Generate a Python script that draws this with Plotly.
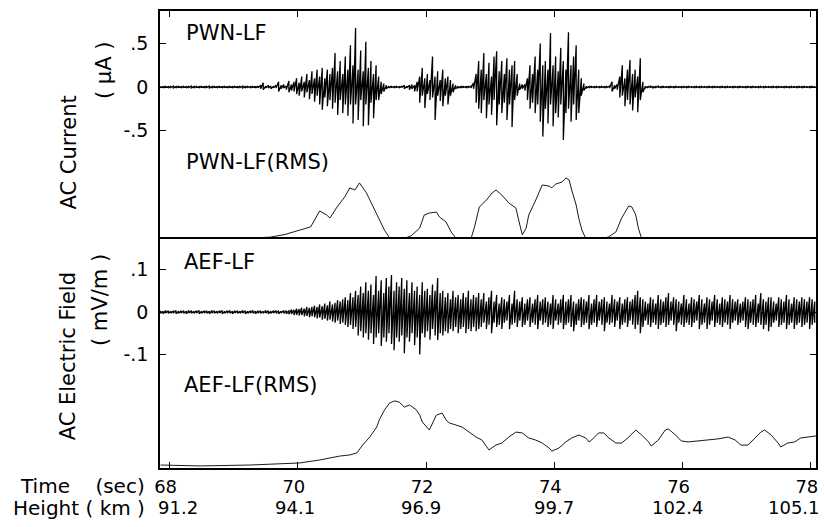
import numpy as np
import plotly.graph_objects as go

# ---------------- data ----------------
T0 = 67.86          # first bin time (s)
DT = 0.04           # bin width (s)

# PWN-LF AC current (uA): per-bin maximum and minimum of the waveform
pwn_hi = [
    0.01, 0.005, 0.01, 0.005, 0.01, 0.01, 0.005, 0.01, 0.005, 0.01, 0.005, 0.01, 0.01, 0.005, 0.01, 0.005, 0.01, 0.005, 0.01, 0.01, 0.005, 0.01, 0.005, 0.01, 0.005,
    0.01, 0.005, 0.01, 0.005, 0.01, 0.005, 0.01, 0.01, 0.005, 0.01, 0.005, 0.01, 0.005, 0.01, 0.02, 0.05, 0.01, 0.02, 0.01, 0.01, 0.02, 0.06, 0.02, 0.03, 0.01,
    0.07, 0.03, 0.06, 0.1, 0.05, 0.12, 0.06, 0.15, 0.08, 0.18, 0.1, 0.2, 0.12, 0.22, 0.1, 0.2, 0.15, 0.22, 0.39, 0.18, 0.3, 0.15, 0.35, 0.2, 0.48,
    0.25, 0.68, 0.2, 0.42, 0.18, 0.52, 0.22, 0.3, 0.15, 0.25, 0.12, 0.06, 0.04, 0.02, 0.01, 0.01, 0.005, 0.01, 0.005, 0.01, 0.02, 0.01, 0.02, 0.03, 0.02,
    0.06, 0.12, 0.22, 0.1, 0.15, 0.08, 0.35, 0.12, 0.18, 0.08, 0.2, 0.1, 0.12, 0.08, 0.04, 0.02, 0.01, 0.005, 0.01, 0.005, 0.01, 0.01, 0.05, 0.15, 0.3,
    0.2, 0.39, 0.15, 0.28, 0.12, 0.35, 0.41, 0.18, 0.3, 0.15, 0.33, 0.2, 0.25, 0.3, 0.15, 0.04, 0.03, 0.03, 0.1, 0.25, 0.15, 0.35, 0.2, 0.5, 0.25,
    0.3, 0.2, 0.62, 0.25, 0.35, 0.18, 0.45, 0.3, 0.2, 0.63, 0.25, 0.35, 0.48, 0.2, 0.1, 0.04, 0.01, 0.005, 0.01, 0.005, 0.01, 0.005, 0.01, 0.005, 0.01,
    0.01, 0.06, 0.02, 0.03, 0.12, 0.25, 0.1, 0.2, 0.31, 0.15, 0.2, 0.12, 0.33, 0.06, 0.01, 0.005, 0.01, 0.005, 0.005, 0.01, 0.005, 0.01, 0.005, 0.005, 0.01,
    0.005, 0.01, 0.005, 0.005, 0.01, 0.005, 0.01, 0.005, 0.005, 0.01, 0.005, 0.01, 0.005, 0.005, 0.01, 0.005, 0.01, 0.005, 0.005, 0.01, 0.005, 0.01, 0.005, 0.005, 0.01,
    0.005, 0.01, 0.005, 0.005, 0.01, 0.005, 0.01, 0.005, 0.005, 0.01, 0.005, 0.01, 0.005, 0.005, 0.01, 0.005, 0.01, 0.005, 0.005, 0.01, 0.005, 0.01, 0.005, 0.005, 0.01,
    0.005, 0.01, 0.005, 0.005, 0.01, 0.005,
]
pwn_lo = [
    -0.005, -0.01, -0.005, -0.01, -0.005, -0.01, -0.01, -0.005, -0.01, -0.005, -0.01, -0.005, -0.01, -0.01, -0.005, -0.01, -0.005, -0.01, -0.005, -0.01, -0.01, -0.005, -0.01, -0.005, -0.01,
    -0.005, -0.01, -0.005, -0.01, -0.005, -0.01, -0.005, -0.01, -0.01, -0.005, -0.01, -0.005, -0.01, -0.01, -0.02, -0.03, -0.01, -0.01, -0.02, -0.01, -0.01, -0.05, -0.02, -0.01, -0.03,
    -0.06, -0.04, -0.05, -0.08, -0.1, -0.05, -0.12, -0.06, -0.14, -0.08, -0.17, -0.1, -0.2, -0.26, -0.12, -0.22, -0.15, -0.25, -0.18, -0.32, -0.15, -0.3, -0.2, -0.33, -0.2,
    -0.42, -0.2, -0.38, -0.15, -0.45, -0.2, -0.44, -0.18, -0.36, -0.15, -0.15, -0.08, -0.05, -0.02, -0.01, -0.005, -0.01, -0.005, -0.01, -0.005, -0.02, -0.01, -0.03, -0.02, -0.05,
    -0.05, -0.18, -0.1, -0.24, -0.08, -0.15, -0.12, -0.38, -0.1, -0.16, -0.22, -0.1, -0.2, -0.1, -0.06, -0.02, -0.01, -0.01, -0.005, -0.01, -0.005, -0.01, -0.02, -0.18, -0.25,
    -0.3, -0.15, -0.36, -0.2, -0.32, -0.15, -0.44, -0.2, -0.3, -0.18, -0.38, -0.2, -0.46, -0.15, -0.1, -0.03, -0.02, -0.04, -0.15, -0.25, -0.18, -0.3, -0.2, -0.4, -0.57,
    -0.25, -0.42, -0.2, -0.45, -0.3, -0.35, -0.2, -0.61, -0.3, -0.25, -0.4, -0.2, -0.38, -0.3, -0.1, -0.04, -0.01, -0.01, -0.005, -0.01, -0.005, -0.01, -0.005, -0.01, -0.005,
    -0.01, -0.05, -0.02, -0.03, -0.12, -0.1, -0.22, -0.15, -0.2, -0.27, -0.12, -0.29, -0.15, -0.06, -0.01, -0.005, -0.005, -0.01, -0.005, -0.005, -0.01, -0.005, -0.005, -0.01, -0.005,
    -0.01, -0.005, -0.005, -0.01, -0.005, -0.01, -0.005, -0.005, -0.01, -0.005, -0.01, -0.005, -0.005, -0.01, -0.005, -0.01, -0.005, -0.005, -0.01, -0.005, -0.01, -0.005, -0.005, -0.01, -0.005,
    -0.01, -0.005, -0.005, -0.01, -0.005, -0.01, -0.005, -0.005, -0.01, -0.005, -0.01, -0.005, -0.005, -0.01, -0.005, -0.01, -0.005, -0.005, -0.01, -0.005, -0.01, -0.005, -0.005, -0.01, -0.005,
    -0.01, -0.005, -0.005, -0.01, -0.005, -0.01,
]

# AEF-LF AC electric field (mV/m): per-bin maximum and minimum of the waveform
aef_hi = [
    0.003, 0.002, 0.004, 0.003, 0.002, 0.003, 0.004, 0.002, 0.003, 0.003, 0.002, 0.004, 0.003, 0.002, 0.003, 0.004, 0.002, 0.003, 0.003, 0.002, 0.004, 0.003, 0.002, 0.003, 0.004,
    0.002, 0.003, 0.004, 0.002, 0.003, 0.003, 0.002, 0.004, 0.003, 0.002, 0.003, 0.004, 0.002, 0.003, 0.003, 0.002, 0.004, 0.003, 0.002, 0.003, 0.004, 0.003, 0.002, 0.004, 0.003,
    0.004, 0.006, 0.005, 0.008, 0.007, 0.01, 0.008, 0.012, 0.01, 0.012, 0.015, 0.012, 0.018, 0.014, 0.02, 0.016, 0.025, 0.018, 0.022, 0.028, 0.025, 0.03, 0.035, 0.028, 0.045,
    0.035, 0.05, 0.04, 0.06, 0.045, 0.07, 0.05, 0.065, 0.04, 0.085, 0.05, 0.075, 0.045, 0.08, 0.06, 0.087, 0.05, 0.07, 0.06, 0.08, 0.055, 0.075, 0.045, 0.07, 0.05,
    0.06, 0.04, 0.07, 0.05, 0.055, 0.04, 0.065, 0.05, 0.08, 0.045, 0.05, 0.035, 0.045, 0.03, 0.05, 0.035, 0.04, 0.03, 0.045, 0.035, 0.05, 0.03, 0.04, 0.035, 0.045,
    0.03, 0.045, 0.025, 0.035, 0.05, 0.025, 0.04, 0.02, 0.035, 0.03, 0.025, 0.04, 0.02, 0.05, 0.03, 0.025, 0.035, 0.02, 0.03, 0.035, 0.02, 0.03, 0.04, 0.025, 0.03,
    0.035, 0.025, 0.02, 0.04, 0.03, 0.02, 0.03, 0.04, 0.025, 0.03, 0.04, 0.025, 0.02, 0.03, 0.035, 0.03, 0.025, 0.04, 0.02, 0.03, 0.04, 0.025, 0.03, 0.035, 0.025,
    0.02, 0.04, 0.03, 0.025, 0.035, 0.02, 0.03, 0.035, 0.025, 0.03, 0.04, 0.05, 0.035, 0.03, 0.025, 0.02, 0.035, 0.03, 0.02, 0.04, 0.03, 0.025, 0.035, 0.045, 0.025,
    0.035, 0.03, 0.025, 0.02, 0.04, 0.03, 0.02, 0.035, 0.03, 0.025, 0.04, 0.03, 0.02, 0.035, 0.03, 0.025, 0.04, 0.03, 0.02, 0.035, 0.03, 0.025, 0.04, 0.03, 0.025,
    0.03, 0.02, 0.025, 0.035, 0.03, 0.025, 0.03, 0.04, 0.02, 0.045, 0.03, 0.025, 0.035, 0.035, 0.025, 0.02, 0.035, 0.03, 0.025, 0.04, 0.03, 0.02, 0.035, 0.03, 0.025,
    0.035, 0.03, 0.025, 0.035, 0.03, 0.025,
]
aef_lo = [
    -0.003, -0.004, -0.002, -0.003, -0.003, -0.002, -0.004, -0.003, -0.002, -0.003, -0.004, -0.002, -0.003, -0.003, -0.002, -0.004, -0.003, -0.002, -0.003, -0.004, -0.002, -0.003, -0.003, -0.002, -0.004,
    -0.003, -0.002, -0.003, -0.004, -0.002, -0.003, -0.003, -0.002, -0.004, -0.003, -0.002, -0.003, -0.004, -0.002, -0.003, -0.003, -0.002, -0.004, -0.003, -0.002, -0.003, -0.004, -0.002, -0.003, -0.004,
    -0.005, -0.004, -0.007, -0.006, -0.008, -0.007, -0.01, -0.009, -0.012, -0.01, -0.012, -0.015, -0.013, -0.018, -0.016, -0.02, -0.018, -0.022, -0.025, -0.02, -0.028, -0.025, -0.03, -0.035, -0.03,
    -0.04, -0.035, -0.055, -0.045, -0.06, -0.05, -0.065, -0.05, -0.075, -0.06, -0.05, -0.08, -0.06, -0.07, -0.05, -0.075, -0.09, -0.06, -0.07, -0.055, -0.097, -0.06, -0.07, -0.05, -0.078,
    -0.06, -0.1, -0.05, -0.06, -0.045, -0.065, -0.04, -0.055, -0.066, -0.05, -0.055, -0.045, -0.05, -0.04, -0.045, -0.035, -0.05, -0.04, -0.035, -0.05, -0.04, -0.045, -0.035, -0.045, -0.04,
    -0.035, -0.025, -0.04, -0.03, -0.05, -0.025, -0.035, -0.03, -0.04, -0.025, -0.02, -0.04, -0.03, -0.025, -0.035, -0.02, -0.035, -0.03, -0.02, -0.035, -0.025, -0.03, -0.04, -0.02, -0.03,
    -0.025, -0.035, -0.03, -0.04, -0.02, -0.03, -0.025, -0.04, -0.03, -0.025, -0.035, -0.045, -0.03, -0.02, -0.035, -0.03, -0.025, -0.04, -0.03, -0.025, -0.035, -0.02, -0.03, -0.045, -0.025,
    -0.03, -0.025, -0.035, -0.02, -0.04, -0.03, -0.025, -0.035, -0.02, -0.03, -0.04, -0.03, -0.05, -0.035, -0.02, -0.03, -0.035, -0.025, -0.03, -0.04, -0.03, -0.025, -0.035, -0.03, -0.02,
    -0.03, -0.045, -0.025, -0.03, -0.035, -0.025, -0.03, -0.035, -0.025, -0.02, -0.04, -0.03, -0.025, -0.04, -0.03, -0.02, -0.035, -0.025, -0.03, -0.035, -0.025, -0.03, -0.04, -0.025, -0.02,
    -0.03, -0.025, -0.02, -0.035, -0.04, -0.025, -0.03, -0.035, -0.025, -0.03, -0.04, -0.03, -0.045, -0.035, -0.025, -0.02, -0.035, -0.03, -0.025, -0.04, -0.03, -0.025, -0.04, -0.03, -0.025,
    -0.035, -0.03, -0.025, -0.04, -0.03, -0.025,
]

# PWN-LF RMS (relative units)
pwn_rms_t = [67.86, 69.18, 69.33, 69.57, 69.80, 70.04, 70.20, 70.34, 70.45, 70.50, 70.61, 70.73, 70.81, 70.89, 70.96,
             71.07, 71.16, 71.27, 71.35, 71.43, 71.66, 71.77, 71.90, 71.97, 72.05, 72.16, 72.21, 72.31, 72.39, 72.47,
             72.70, 72.75, 72.83, 72.94, 73.03, 73.09, 73.18, 73.29, 73.40, 73.45, 73.50, 73.56, 73.60, 73.71, 73.81,
             73.92, 73.96, 74.02, 74.12, 74.18, 74.23, 74.27, 74.34, 74.38, 74.43, 74.49, 74.77, 74.85, 74.96, 75.05,
             75.16, 75.21, 75.27, 75.31, 75.36, 78.08]
pwn_rms = [0.02, 0.02, 0.05, 0.08, 0.2, 0.4, 0.53, 1.23, 1.05, 0.92, 1.40, 1.84, 2.24, 2.15, 2.46,
           2.02, 1.49, 0.83, 0.39, 0.05, 0.02, 0.15, 0.48, 1.05, 1.14, 1.18, 0.96, 0.75, 0.31, 0.02,
           0.02, 0.48, 1.40, 1.71, 2.02, 2.15, 1.93, 1.58, 1.36, 0.75, 0.18, 0.48, 1.05, 1.71, 2.37,
           2.32, 2.24, 2.41, 2.50, 2.68, 2.59, 2.15, 1.49, 0.92, 0.39, 0.02, 0.02, 0.10, 0.31, 0.92,
           1.45, 1.40, 1.05, 0.48, 0.02, 0.02]

# AEF-LF RMS (relative units)
aef_rms_t = [67.86, 68.48, 69.25, 70.03, 70.34, 70.65, 70.81, 70.92, 71.01, 71.12, 71.23, 71.27, 71.35, 71.43, 71.51,
             71.58, 71.66, 71.74, 71.79, 71.85, 71.90, 71.94, 72.05, 72.10, 72.16, 72.25, 72.31, 72.36, 72.47, 72.56,
             72.67, 72.78, 72.87, 72.98, 73.09, 73.18, 73.29, 73.40, 73.50, 73.60, 73.71, 73.81, 73.92, 73.96, 74.07,
             74.18, 74.27, 74.38, 74.49, 74.54, 74.58, 74.69, 74.77, 74.85, 74.96, 75.05, 75.16, 75.27, 75.36, 75.47,
             75.51, 75.62, 75.73, 75.78, 75.89, 75.98, 76.09, 76.24, 76.40, 76.55, 76.71, 76.82, 76.91, 77.02, 77.13,
             77.22, 77.28, 77.38, 77.49, 77.53, 77.64, 77.75, 77.84, 77.95, 78.08]
aef_rms = [0.13, 0.09, 0.13, 0.22, 0.35, 0.52, 0.57, 0.66, 1.00, 1.35, 1.79, 2.10, 2.53, 2.84, 2.93,
           2.88, 2.66, 2.75, 2.66, 2.53, 2.31, 2.01, 1.66, 1.97, 2.31, 2.40, 2.10, 1.97, 1.88, 1.79,
           1.57, 1.35, 1.22, 0.79, 1.00, 1.09, 1.35, 1.57, 1.53, 1.31, 1.22, 1.09, 0.87, 0.74, 0.87,
           1.14, 1.31, 1.44, 1.31, 1.14, 1.22, 1.53, 1.53, 1.31, 1.09, 1.09, 1.35, 1.66, 1.44, 1.14,
           0.96, 1.22, 1.66, 1.70, 1.44, 1.18, 1.14, 1.18, 1.22, 1.27, 1.35, 1.22, 1.00, 1.00, 1.31,
           1.57, 1.66, 1.44, 1.09, 0.92, 1.09, 1.14, 1.31, 1.35, 1.40]

time_ticks = [68, 70, 72, 74, 76, 78]
time_labels = ["68", "70", "72", "74", "76", "78"]
height_labels = ["91.2", "94.1", "96.9", "99.7", "102.4", "105.1"]
pwn_ticks = [-0.5, 0, 0.5]
pwn_tick_labels = ["-.5", "0", ".5"]
aef_ticks = [-0.1, 0, 0.1]
aef_tick_labels = ["-.1", "0", ".1"]

# ---------------- figure ----------------
FONT = "DejaVu Sans"


def envelope_path(hi, lo):
    """Oscillogram-style path: a vertical stroke max->min in each bin."""
    xs, ys = [], []
    for i, (h, l) in enumerate(zip(hi, lo)):
        ti = T0 + DT * i
        xs += [ti, ti]
        ys += [h, l]
    return xs, ys


px, py = envelope_path(pwn_hi, pwn_lo)
ax_, ay_ = envelope_path(aef_hi, aef_lo)

fig = go.Figure()
wave_line = dict(color="black", width=1.3)
rms_line = dict(color="black", width=0.9)
fig.add_trace(go.Scatter(x=px, y=py, mode="lines", line=wave_line, xaxis="x2", yaxis="y"))
fig.add_trace(go.Scatter(x=pwn_rms_t, y=pwn_rms, mode="lines", line=rms_line, xaxis="x2", yaxis="y3"))
fig.add_trace(go.Scatter(x=ax_, y=ay_, mode="lines", line=wave_line, xaxis="x", yaxis="y2"))
fig.add_trace(go.Scatter(x=aef_rms_t, y=aef_rms, mode="lines", line=rms_line, xaxis="x", yaxis="y4"))

split = 0.5011
ax_common = dict(showline=True, linecolor="black", linewidth=1.5, showgrid=False, zeroline=False,
                 ticks="inside", tickcolor="black", ticklen=6, tickwidth=1.2)

fig.update_layout(
    width=824, height=527,
    margin=dict(l=160, r=6, t=11, b=59),
    plot_bgcolor="white", paper_bgcolor="white",
    showlegend=False,
    font=dict(family=FONT, color="black", size=19),
    xaxis=dict(domain=[0, 1], anchor="y2", range=[67.85, 78.08], tickvals=time_ticks, ticktext=time_labels,
               mirror=True, tickfont=dict(size=18), ticklabelstandoff=2, ticklabelshift=-4, **ax_common),
    xaxis2=dict(domain=[0, 1], anchor="y", matches="x", side="top", tickvals=time_ticks,
                showticklabels=False, **ax_common),
    yaxis=dict(domain=[split, 1], anchor="x2", range=[-1.747, 0.874], tickvals=pwn_ticks, ticktext=pwn_tick_labels,
               mirror="ticks", tickfont=dict(size=19), ticklabelstandoff=6, **ax_common),
    yaxis2=dict(domain=[0, split], anchor="x", range=[-0.367, 0.172], tickvals=aef_ticks, ticktext=aef_tick_labels,
                mirror="ticks", tickfont=dict(size=19), ticklabelstandoff=6, **ax_common),
    yaxis3=dict(overlaying="y", anchor="x2", range=[0, 10], visible=False),
    yaxis4=dict(overlaying="y2", anchor="x", range=[0, 10], visible=False),
)

ann = []


def label(text, x, y, size=21, xanchor="left", angle=0):
    ann.append(dict(text=text, x=x, y=y, xref="paper", yref="paper", showarrow=False,
                    xanchor=xanchor, yanchor="middle", textangle=angle,
                    font=dict(family=FONT, size=size, color="black")))


label("PWN-LF", 0.036, 0.952)
label("PWN-LF(RMS)", 0.036, 0.670)
label("AEF-LF", 0.034, 0.451)
label("AEF-LF(RMS)", 0.034, 0.182)
label("AC Current", -0.1383, 0.691, size=21, xanchor="center", angle=-90)
label("( μA )", -0.0851, 0.869, size=21, xanchor="center", angle=-90)
label("AC Electric Field", -0.1398, 0.245, size=21, xanchor="center", angle=-90)
label("( mV/m )", -0.0912, 0.368, size=21, xanchor="center", angle=-90)
label("Time    (sec)", -0.0198, -0.0400, size=20, xanchor="right")
label("Height ( km )", -0.0198, -0.0875, size=20, xanchor="right")

height_shift = [8, -3, -5, 0, -5, 10]
for i, (tv, hl) in enumerate(zip(time_ticks, height_labels)):
    last = i == len(time_ticks) - 1
    ann.append(dict(text=hl, x=tv, y=-0.0875, xref="x", yref="paper", showarrow=False,
                    xanchor="right" if last else "center", xshift=height_shift[i],
                    yanchor="middle", borderpad=0,
                    font=dict(family=FONT, size=18, color="black")))

fig.update_layout(annotations=ann)
fig.write_html("out.html", config={"displayModeBar": False},
               post_script="document.body.style.margin='0';")
